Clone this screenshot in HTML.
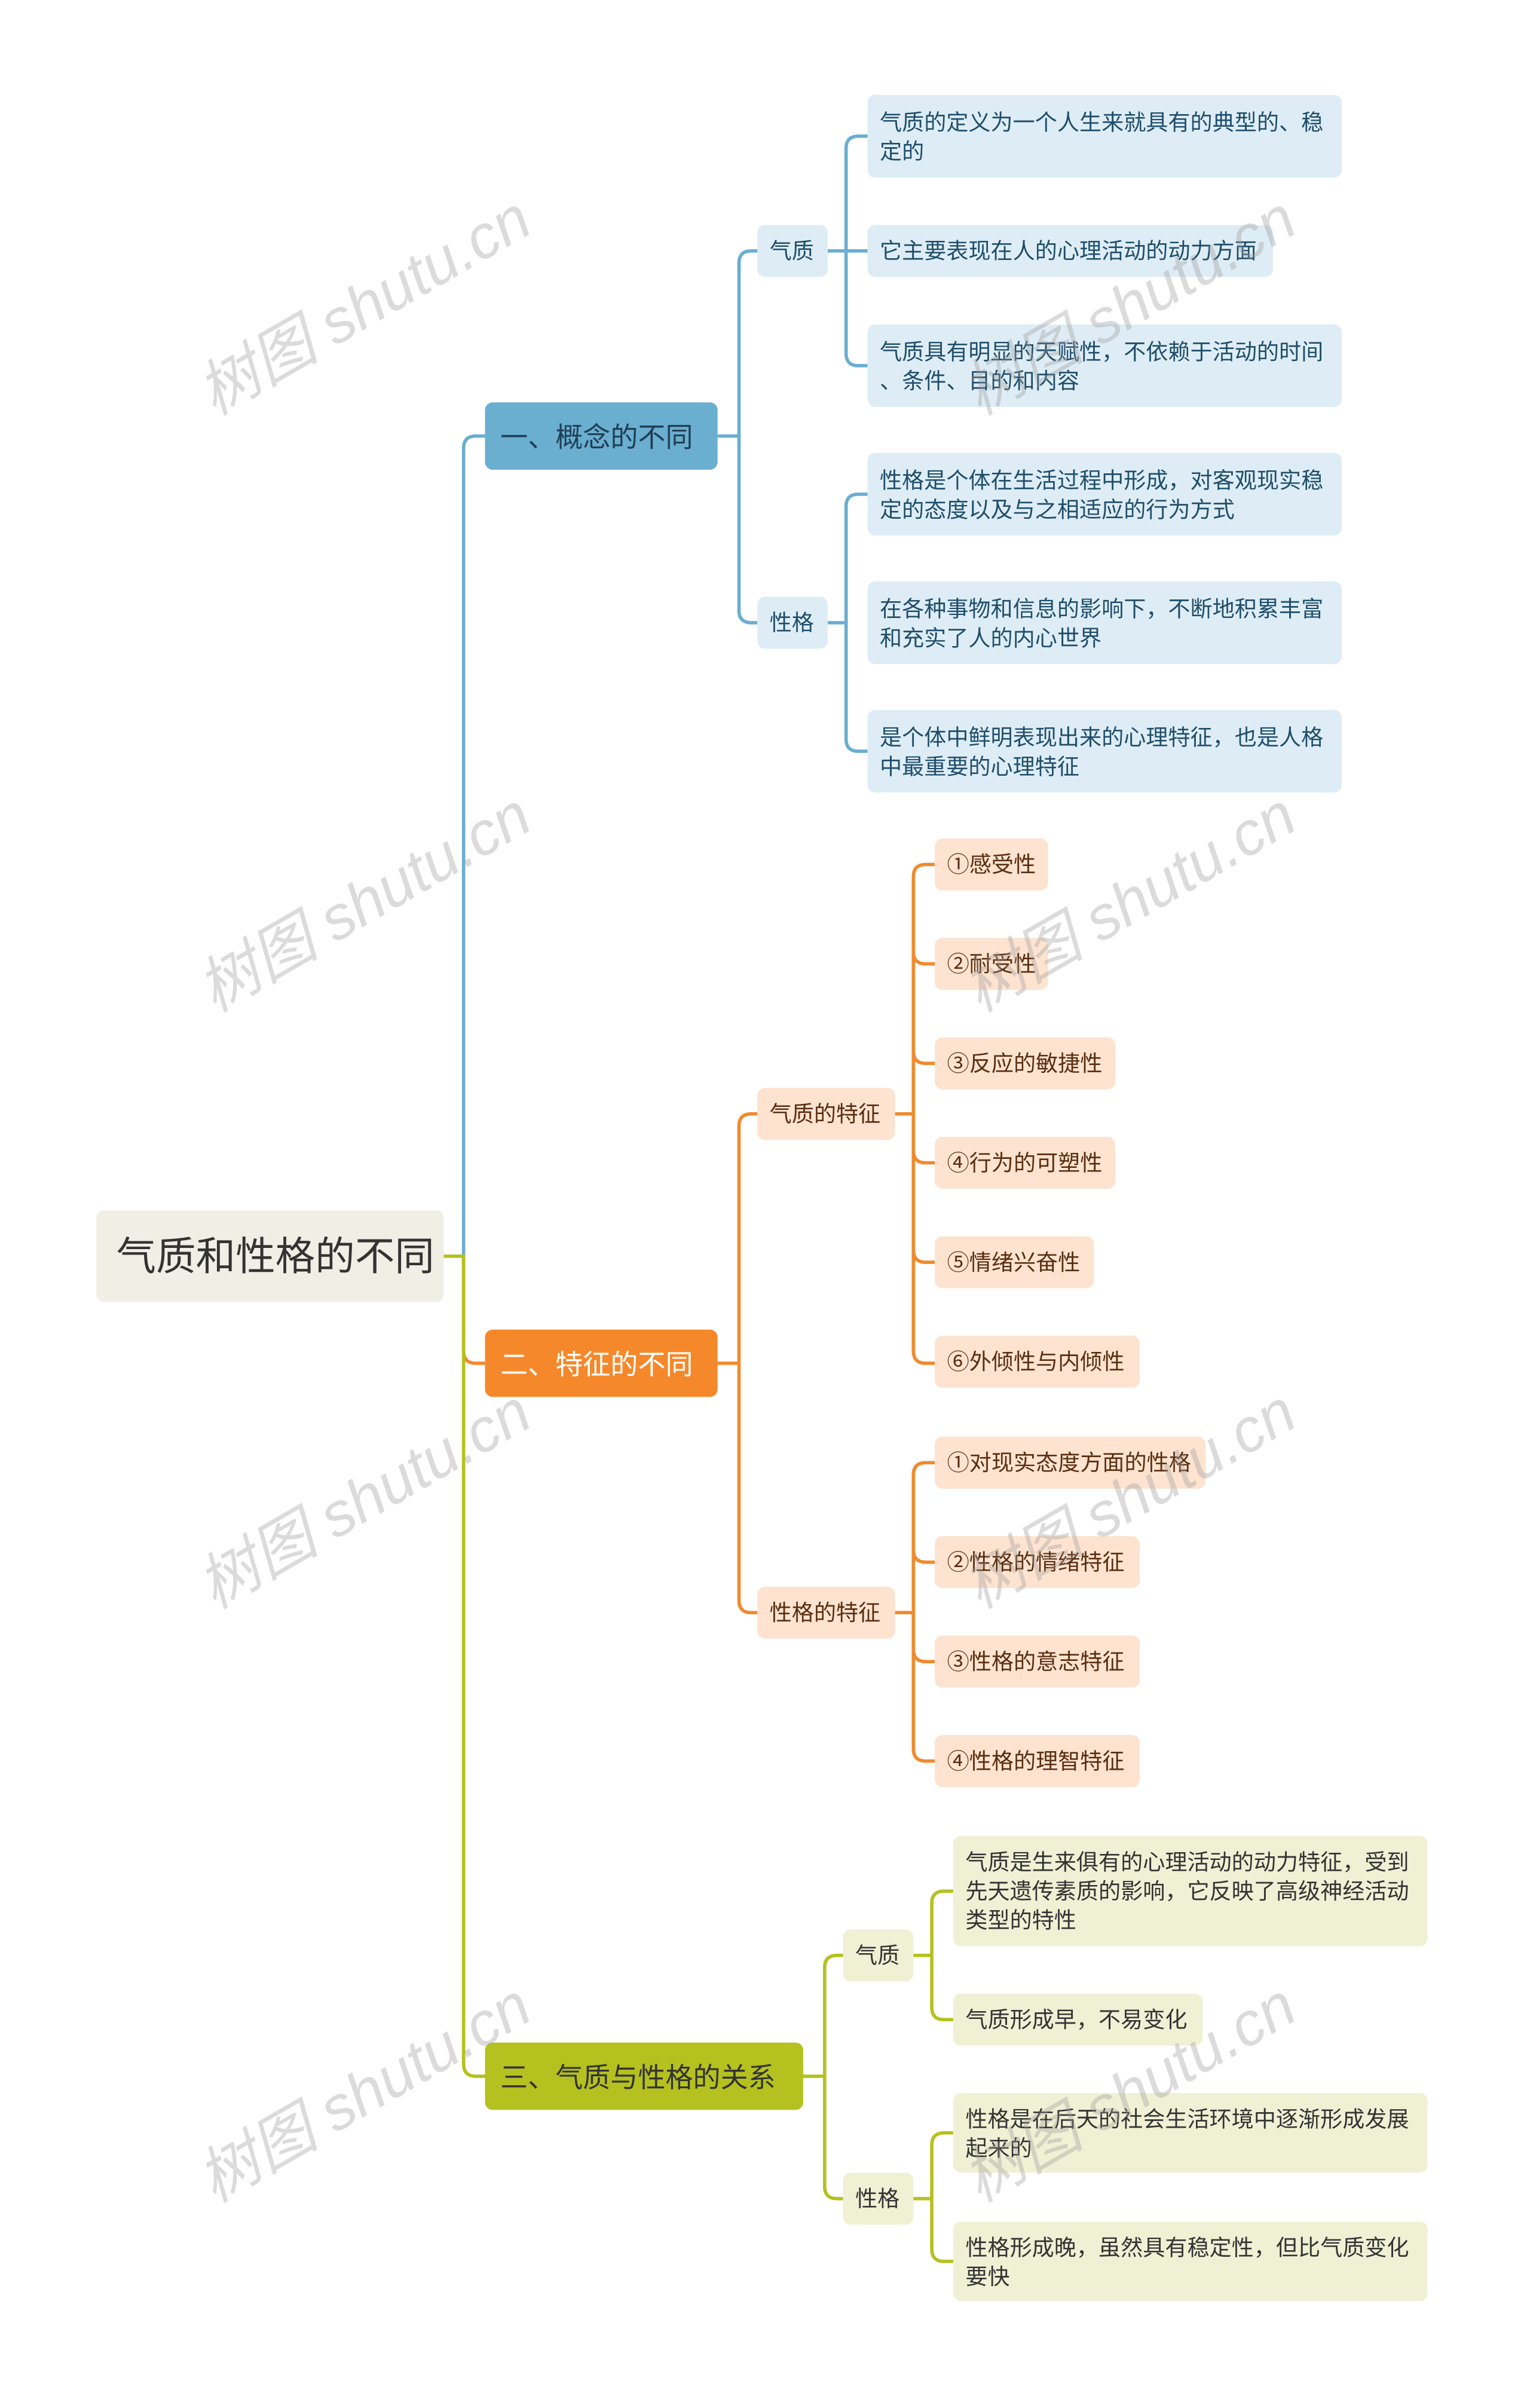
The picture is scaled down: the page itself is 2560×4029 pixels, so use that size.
<!DOCTYPE html>
<html><head><meta charset="utf-8"><style>
html,body{margin:0;padding:0;background:#fff}
svg{display:block}
text{font-family:"Liberation Sans","Noto Sans CJK SC",sans-serif}
</style></head><body>
<svg width="2560" height="4029" viewBox="0 0 1000 1573.83" xmlns="http://www.w3.org/2000/svg">
<rect width="1000" height="1573.83" fill="#fff"/>
<!-- connectors -->
<g fill="none" stroke-width="2.2">
<path d="M303,821 V293 Q303,285 311,285 H317" stroke="#6aaed0"/>
<path d="M303,821 V883 Q303,891 311,891 H317" stroke="#f08a2e"/>
<path d="M290,821 H303 V1349 Q303,1357 311,1357 H317" stroke="#b5c11e"/>
<!-- blue -->
<path d="M469,285 H483 M483,285 V172 Q483,164 491,164 H495 M483,285 V399 Q483,407 491,407 H495" stroke="#6aaed0"/>
<path d="M541,164 H567 M553,164 V97 Q553,89 561,89 H567 M553,164 V231 Q553,239 561,239 H567" stroke="#6aaed0"/>
<path d="M541,407 H553 M553,407 V331 Q553,323 561,323 H567 M553,407 V483 Q553,491 561,491 H567" stroke="#6aaed0"/>
<!-- orange -->
<path d="M469,891 H483 M483,891 V736 Q483,728 491,728 H495 M483,891 V1046 Q483,1054 491,1054 H495" stroke="#f08a2e"/>
<path d="M585,728 H597 M597,728 V573 Q597,565 605,565 H611 M597,630 Q597,630 597,630 M597,728 V883 Q597,891 605,891 H611 M597,622 Q597,630 605,630 H611 M597,687 Q597,695 605,695 H611 M597,752 Q597,760 605,760 H611 M597,817 Q597,825 605,825 H611" stroke="#f08a2e"/>
<path d="M585,1054 H597 M597,1054 V964 Q597,956 605,956 H611 M597,1054 V1143 Q597,1151 605,1151 H611 M597,1013 Q597,1021 605,1021 H611 M597,1078 Q597,1086 605,1086 H611" stroke="#f08a2e"/>
<!-- green -->
<path d="M525,1357 H539 M539,1357 V1286 Q539,1278 547,1278 H551 M539,1357 V1429 Q539,1437 547,1437 H551" stroke="#b5c11e"/>
<path d="M597,1278 H609 M609,1278 V1244 Q609,1236 617,1236 H623 M609,1278 V1312 Q609,1320 617,1320 H623" stroke="#b5c11e"/>
<path d="M597,1437 H609 M609,1437 V1402 Q609,1394 617,1394 H623 M609,1437 V1470 Q609,1478 617,1478 H623" stroke="#b5c11e"/>
</g>
<!-- root -->
<rect x="63" y="791" width="227" height="60" rx="5" fill="#f0efe6"/>
<text x="76" y="830" font-size="26" fill="#333">气质和性格的不同</text>
<!-- level1 -->
<rect x="317" y="263" width="152" height="44" rx="5" fill="#6aaed0"/>
<text x="327" y="292" font-size="18" fill="#1f3f55">一、概念的不同</text>
<rect x="317" y="869" width="152" height="44" rx="5" fill="#f5882a"/>
<text x="327" y="898" font-size="18" fill="#fff">二、特征的不同</text>
<rect x="317" y="1335" width="208" height="44" rx="5" fill="#b5c11e"/>
<text x="327" y="1364" font-size="18" fill="#333">三、气质与性格的关系</text>
<!-- blue level2 -->
<g fill="#deedf5"><rect x="495" y="147" width="46" height="34" rx="5"/><rect x="495" y="390" width="46" height="34" rx="5"/>
<rect x="567" y="62" width="310" height="54" rx="5"/><rect x="567" y="147" width="265" height="34" rx="5"/>
<rect x="567" y="212" width="310" height="54" rx="5"/><rect x="567" y="296" width="310" height="54" rx="5"/>
<rect x="567" y="380" width="310" height="54" rx="5"/><rect x="567" y="464" width="310" height="54" rx="5"/></g>
<g fill="#1f4e6b" font-size="14.5">
<text x="503" y="169">气质</text><text x="503" y="412">性格</text>
<text x="575" y="85">气质的定义为一个人生来就具有的典型的、稳</text><text x="575" y="104">定的</text>
<text x="575" y="169">它主要表现在人的心理活动的动力方面</text>
<text x="575" y="235">气质具有明显的天赋性，不依赖于活动的时间</text><text x="575" y="254">、条件、目的和内容</text>
<text x="575" y="319">性格是个体在生活过程中形成，对客观现实稳</text><text x="575" y="338">定的态度以及与之相适应的行为方式</text>
<text x="575" y="403">在各种事物和信息的影响下，不断地积累丰富</text><text x="575" y="422">和充实了人的内心世界</text>
<text x="575" y="487">是个体中鲜明表现出来的心理特征，也是人格</text><text x="575" y="506">中最重要的心理特征</text>
</g>
<!-- orange -->
<g fill="#fde3d0"><rect x="495" y="711" width="90" height="34" rx="5"/><rect x="495" y="1037" width="90" height="34" rx="5"/>
<rect x="611" y="548" width="74" height="34" rx="5"/><rect x="611" y="613" width="74" height="34" rx="5"/>
<rect x="611" y="678" width="118" height="34" rx="5"/><rect x="611" y="743" width="118" height="34" rx="5"/>
<rect x="611" y="808" width="104" height="34" rx="5"/><rect x="611" y="873" width="134" height="34" rx="5"/>
<rect x="611" y="939" width="177" height="34" rx="5"/><rect x="611" y="1004" width="134" height="34" rx="5"/>
<rect x="611" y="1069" width="134" height="34" rx="5"/><rect x="611" y="1134" width="134" height="34" rx="5"/></g>
<g fill="#5a2e10" font-size="14.5">
<text x="503" y="733">气质的特征</text><text x="503" y="1059">性格的特征</text>
<text x="619" y="570">①感受性</text><text x="619" y="635">②耐受性</text><text x="619" y="700">③反应的敏捷性</text>
<text x="619" y="765">④行为的可塑性</text><text x="619" y="830">⑤情绪兴奋性</text><text x="619" y="895">⑥外倾性与内倾性</text>
<text x="619" y="961">①对现实态度方面的性格</text><text x="619" y="1026">②性格的情绪特征</text>
<text x="619" y="1091">③性格的意志特征</text><text x="619" y="1156">④性格的理智特征</text>
</g>
<!-- green -->
<g fill="#f0f0d5"><rect x="551" y="1261" width="46" height="34" rx="5"/><rect x="551" y="1420" width="46" height="34" rx="5"/>
<rect x="623" y="1200" width="310" height="72" rx="5"/><rect x="623" y="1303" width="163" height="34" rx="5"/>
<rect x="623" y="1368" width="310" height="52" rx="5"/><rect x="623" y="1452" width="310" height="52" rx="5"/></g>
<g fill="#333" font-size="14.5">
<text x="559" y="1283">气质</text><text x="559" y="1442">性格</text>
<text x="631" y="1222">气质是生来俱有的心理活动的动力特征，受到</text><text x="631" y="1241">先天遗传素质的影响，它反映了高级神经活动</text><text x="631" y="1260">类型的特性</text>
<text x="631" y="1325">气质形成早，不易变化</text>
<text x="631" y="1390">性格是在后天的社会生活环境中逐渐形成发展</text><text x="631" y="1409">起来的</text>
<text x="631" y="1474">性格形成晚，虽然具有稳定性，但比气质变化</text><text x="631" y="1493">要快</text>
</g>
<!-- watermarks -->
<g fill="#999" fill-opacity="0.35" font-size="40" font-family="Liberation Serif,Noto Serif CJK SC,serif" font-style="italic">
<text transform="translate(140,272) rotate(-30)">树图 shutu.cn</text>
<text transform="translate(640,272) rotate(-30)">树图 shutu.cn</text>
<text transform="translate(140,662) rotate(-30)">树图 shutu.cn</text>
<text transform="translate(640,662) rotate(-30)">树图 shutu.cn</text>
<text transform="translate(140,1052) rotate(-30)">树图 shutu.cn</text>
<text transform="translate(640,1052) rotate(-30)">树图 shutu.cn</text>
<text transform="translate(140,1440) rotate(-30)">树图 shutu.cn</text>
<text transform="translate(640,1440) rotate(-30)">树图 shutu.cn</text>
</g>
</svg>
</body></html>
